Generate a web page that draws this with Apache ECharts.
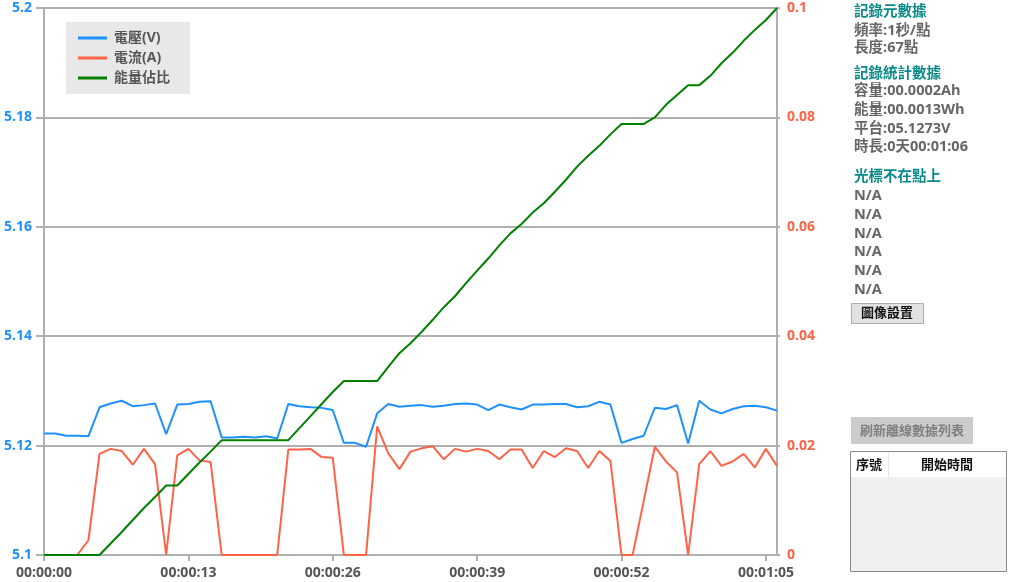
<!DOCTYPE html>
<html>
<head>
<meta charset="utf-8">
<script src="https://cdn.jsdelivr.net/npm/echarts@6/dist/echarts.min.js"></script>
<style>
html,body{margin:0;padding:0;background:#fff;}
#main{width:1009px;height:582px;}
</style>
</head>
<body>
<div id="main"></div>
<script>
// seconds 0..66 (1 point per second)
const seconds = [0,1,2,3,4,5,6,7,8,9,10,11,12,13,14,15,16,17,18,19,20,21,22,23,24,25,26,27,28,29,30,31,32,33,34,35,36,37,38,39,40,41,42,43,44,45,46,47,48,49,50,51,52,53,54,55,56,57,58,59,60,61,62,63,64,65,66];
const voltage = [5.1222,5.1222,5.1218,5.1218,5.1217,5.1270,5.1277,5.1282,5.1272,5.1274,5.1277,5.1221,5.1275,5.1276,5.1280,5.1281,5.1215,5.1215,5.1216,5.1215,5.1217,5.1213,5.1276,5.1272,5.1270,5.1269,5.1265,5.1205,5.1205,5.1198,5.1259,5.1276,5.1271,5.1273,5.1274,5.1271,5.1273,5.1276,5.1277,5.1275,5.1265,5.1275,5.1270,5.1266,5.1275,5.1275,5.1276,5.1276,5.1270,5.1272,5.1280,5.1275,5.1205,5.1212,5.1218,5.1269,5.1267,5.1274,5.1204,5.1282,5.1266,5.1259,5.1267,5.1272,5.1273,5.1270,5.1264];
const current = [0,0,0,0,0.0027,0.0185,0.0194,0.0190,0.0165,0.0194,0.0166,0,0.0182,0.0194,0.0173,0.0170,0,0,0,0,0,0,0.0193,0.0193,0.0194,0.0179,0.0178,0,0,0,0.0235,0.0186,0.0157,0.0189,0.0195,0.0199,0.0175,0.0194,0.0189,0.0194,0.0190,0.0175,0.0193,0.0193,0.0159,0.0190,0.0179,0.0195,0.0190,0.0159,0.0190,0.0172,0,0,0.0099,0.0198,0.0171,0.0151,0,0.0166,0.0190,0.0163,0.0171,0.0185,0.0160,0.0194,0.0163];
const energyRatio = [0,0,0,0,0,0,0.0021,0.0042,0.0064,0.0086,0.0106,0.0127,0.0127,0.0148,0.0169,0.0189,0.0210,0.0210,0.0210,0.0210,0.0210,0.0210,0.0210,0.0232,0.0254,0.0276,0.0298,0.0318,0.0318,0.0318,0.0318,0.0344,0.0369,0.0387,0.0408,0.0430,0.0453,0.0473,0.0497,0.0520,0.0542,0.0566,0.0588,0.0605,0.0626,0.0643,0.0664,0.0686,0.0710,0.0730,0.0748,0.0769,0.0788,0.0788,0.0788,0.0800,0.0823,0.0841,0.0859,0.0859,0.0876,0.0899,0.0918,0.0940,0.0960,0.0978,0.1000];
const seriesNames = ['電壓(V)','電流(A)','能量佔比'];
const panelLines = [
  {t:'記錄元數據', y:14, c:'teal'},
  {t:'頻率:1秒/點', y:33, c:'gray'},
  {t:'長度:67點', y:50, c:'gray'},
  {t:'記錄統計數據', y:76, c:'teal'},
  {t:'容量:00.0002Ah', y:93, c:'gray'},
  {t:'能量:00.0013Wh', y:112, c:'gray'},
  {t:'平台:05.1273V', y:131, c:'gray'},
  {t:'時長:0天00:01:06', y:149, c:'gray'},
  {t:'光標不在點上', y:179, c:'teal'},
  {t:'N/A', y:198, c:'gray'},
  {t:'N/A', y:217, c:'gray'},
  {t:'N/A', y:236, c:'gray'},
  {t:'N/A', y:254, c:'gray'},
  {t:'N/A', y:273, c:'gray'},
  {t:'N/A', y:292, c:'gray'}
];

const FONT = '"Segoe UI","Open Sans","Noto Sans CJK TC",sans-serif';
const pad = n => String(n).padStart(2,'0');
const fmtTime = v => { v = Math.round(v); return pad(Math.floor(v/3600)) + ':' + pad(Math.floor(v/60)%60) + ':' + pad(v%60); };

const chart = echarts.init(document.getElementById('main'), null, {renderer:'canvas'});

const graphics = [];
panelLines.forEach(p => {
  graphics.push({type:'text', left:854, top:p.y-9, silent:true,
    style:{text:p.t, fill: p.c==='teal' ? '#0b8a8a' : '#666666', font:'bold 14.5px ' + FONT}});
});
// 圖像設置 button
graphics.push({type:'rect', shape:{x:851.5, y:303.5, width:72, height:20}, style:{fill:'#e1e1e1', stroke:'#adadad', lineWidth:1}});
graphics.push({type:'text', x:887, y:313.5, style:{text:'圖像設置', fill:'#111', font:'bold 13px ' + FONT, align:'center', verticalAlign:'middle'}});
// 刷新 button
graphics.push({type:'rect', shape:{x:851, y:417, width:122, height:27}, style:{fill:'#cccccc'}});
graphics.push({type:'text', x:912, y:431, style:{text:'刷新離線數據列表', fill:'#7f7f7f', font:'bold 13px ' + FONT, align:'center', verticalAlign:'middle'}});
// table
graphics.push({type:'rect', shape:{x:850.5, y:451.5, width:156, height:120}, style:{fill:'#f0f0f0', stroke:'#8a8a8a', lineWidth:1}});
graphics.push({type:'rect', shape:{x:851, y:452, width:155, height:25}, style:{fill:'#ffffff'}});
graphics.push({type:'line', shape:{x1:888.5, y1:452, x2:888.5, y2:477}, style:{stroke:'#e6e6e6', lineWidth:1}});
graphics.push({type:'text', x:869, y:465, style:{text:'序號', fill:'#111', font:'bold 13px ' + FONT, align:'center', verticalAlign:'middle'}});
graphics.push({type:'text', x:947, y:465, style:{text:'開始時間', fill:'#111', font:'bold 13px ' + FONT, align:'center', verticalAlign:'middle'}});

const axisGray = '#b0b0b0';
const option = {
  backgroundColor:'#ffffff',
  animation:false,
  textStyle:{fontFamily:FONT},
  grid:{left:44, right:232, top:8, bottom:27, containLabel:false},
  legend:{
    data:seriesNames, orient:'vertical', left:66, top:22,
    backgroundColor:'#e8e8e8', padding:[9,20,9,12], itemGap:6,
    itemWidth:29, itemHeight:14, icon:'path://M0,6 L29,6 L29,9 L0,9 Z',
    textStyle:{color:'#555', fontWeight:'bold', fontSize:14, fontFamily:FONT, padding:[0,0,0,2]}
  },
  xAxis:{
    type:'value', min:0, max:66, interval:13,
    axisLine:{lineStyle:{color:axisGray, width:2}},
    axisTick:{show:true, length:6, lineStyle:{color:axisGray, width:2}},
    splitLine:{show:false},
    axisLabel:{formatter:fmtTime, color:'#555', fontWeight:'bold', fontSize:14, margin:11, showMaxLabel:false, fontFamily:FONT}
  },
  yAxis:[
    {type:'value', min:5.1, max:5.2, interval:0.02, position:'left',
     axisLine:{show:true, lineStyle:{color:axisGray, width:2}},
     axisTick:{show:true, length:8, lineStyle:{color:axisGray, width:2}},
     splitLine:{show:true, lineStyle:{color:axisGray, width:2}},
     axisLabel:{color:'#1e90ff', fontWeight:'bold', fontSize:14, margin:12, fontFamily:FONT,
       formatter: v => String(Math.round(v*100)/100)}
    },
    {type:'value', min:0, max:0.1, interval:0.02, position:'right',
     axisLine:{show:true, lineStyle:{color:axisGray, width:2}},
     axisTick:{show:true, length:3, lineStyle:{color:axisGray, width:2}},
     splitLine:{show:false},
     axisLabel:{color:'#ff6347', fontWeight:'bold', fontSize:14, margin:10, fontFamily:FONT,
       formatter: v => String(Math.round(v*100)/100)}
    }
  ],
  series:[
    {name:seriesNames[0], type:'line', yAxisIndex:0, showSymbol:false, symbol:'none', color:'#1e90ff',
     lineStyle:{width:2, color:'#1e90ff'}, data:seconds.map((s,i)=>[s, voltage[i]])},
    {name:seriesNames[1], type:'line', yAxisIndex:1, showSymbol:false, symbol:'none', color:'#ff6347',
     lineStyle:{width:2, color:'#ff6347'}, data:seconds.map((s,i)=>[s, current[i]])},
    {name:seriesNames[2], type:'line', yAxisIndex:1, showSymbol:false, symbol:'none', color:'#008000',
     lineStyle:{width:2, color:'#008000'}, data:seconds.map((s,i)=>[s, energyRatio[i]])}
  ],
  graphic:graphics
};
chart.setOption(option);
</script>
</body>
</html>
